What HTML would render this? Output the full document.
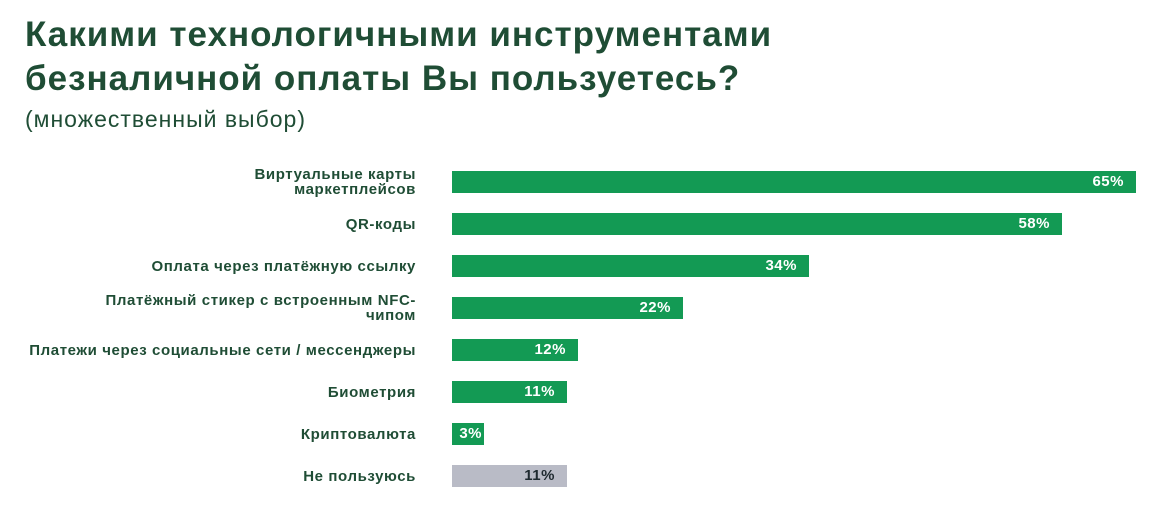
<!DOCTYPE html>
<html><head><meta charset="utf-8"><style>
body{margin:0;width:1152px;height:507px;background:#fff;font-family:"Liberation Sans","Noto Sans CJK SC",sans-serif;position:relative;overflow:hidden}
.t{position:absolute;left:25px;color:#1f4d35;font-weight:bold;font-size:35px;letter-spacing:1px;white-space:nowrap}
.s{position:absolute;left:25px;top:106px;color:#1f4d35;font-size:23px;letter-spacing:1px;white-space:nowrap}
.l{position:absolute;right:736px;color:#1f4d35;font-weight:bold;font-size:15px;letter-spacing:0.6px;text-align:right;line-height:15px;white-space:nowrap}
.b{position:absolute;left:452px;height:22px;background:#139a54}
.v{position:absolute;color:#fff;font-weight:bold;font-size:15px;letter-spacing:0.5px;line-height:22px;text-align:right}
</style></head><body>
<div class="t" style="top:15px">Какими технологичными инструментами</div>
<div class="t" style="top:59px">безналичной оплаты Вы пользуетесь?</div>
<div class="s">(множественный выбор)</div>

<div class="l" style="top:167px">Виртуальные карты<br>маркетплейсов</div>
<div class="b" style="top:171px;width:684px"></div><div class="v" style="top:171px;left:452px;width:672px">65%</div>

<div class="l" style="top:217px">QR-коды</div>
<div class="b" style="top:213px;width:610px"></div><div class="v" style="top:213px;left:452px;width:598px">58%</div>

<div class="l" style="top:259px">Оплата через платёжную ссылку</div>
<div class="b" style="top:255px;width:357px"></div><div class="v" style="top:255px;left:452px;width:345px">34%</div>

<div class="l" style="top:293px">Платёжный стикер с встроенным NFC-<br>чипом</div>
<div class="b" style="top:297px;width:231px"></div><div class="v" style="top:297px;left:452px;width:219px">22%</div>

<div class="l" style="top:343px">Платежи через социальные сети / мессенджеры</div>
<div class="b" style="top:339px;width:126px"></div><div class="v" style="top:339px;left:452px;width:114px">12%</div>

<div class="l" style="top:385px">Биометрия</div>
<div class="b" style="top:381px;width:115px"></div><div class="v" style="top:381px;left:452px;width:103px">11%</div>

<div class="l" style="top:427px">Криптовалюта</div>
<div class="b" style="top:423px;width:32px"></div><div class="v" style="top:423px;left:452px;width:30px">3%</div>

<div class="l" style="top:469px">Не пользуюсь</div>
<div class="b" style="top:465px;width:115px;background:#b9bbc6"></div><div class="v" style="top:465px;left:452px;width:103px;color:#1f2a30">11%</div>
</body></html>
